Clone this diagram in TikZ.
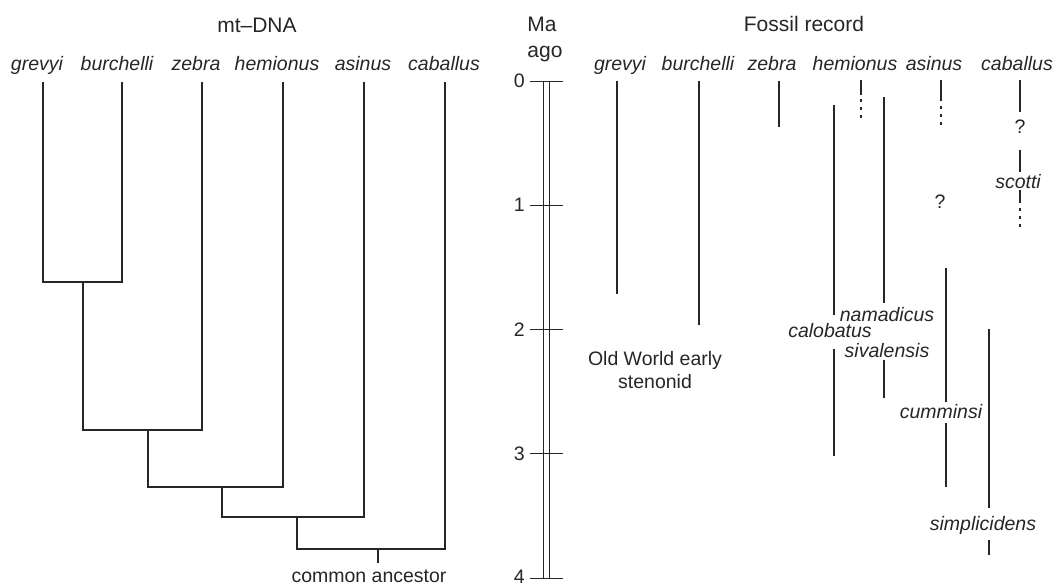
\documentclass[tikz,border=0pt]{standalone}
\usepackage{fontspec}
\setmainfont{Liberation Sans}
\begin{document}
\begin{tikzpicture}[x=1pt,y=-1pt,
  lab/.style={font=\fontsize{19.5}{22}\selectfont\itshape, anchor=base, inner sep=0pt, text=black!85},
  txt/.style={font=\fontsize{19.5}{22}\selectfont, anchor=base, inner sep=0pt, text=black!85},
  ttl/.style={font=\fontsize{21}{24}\selectfont, anchor=base, inner sep=0pt, text=black!85},
  num/.style={font=\fontsize{19.5}{24}\selectfont, anchor=east, inner sep=0pt, text=black!85},
  branch/.style={line width=1.6pt, black!85},
  bar/.style={line width=2pt, black!85},
  axisline/.style={line width=0.9pt, black!85},
  dotted bar/.style={line width=2pt, black!85, dash pattern=on 2.5pt off 5.5pt}]
\useasboundingbox (0,0) rectangle (1057,587);

% ---------------- mt-DNA tree ----------------
\node[ttl] (mtdna) at (257,32) {mt--DNA};
\node[lab] (lg) at (37,70) {grevyi};
\node[lab] (lb) at (117,70) {burchelli};
\node[lab] (lz) at (196,70) {zebra};
\node[lab] (lh) at (277,70) {hemionus};
\node[lab] (la) at (363,70) {asinus};
\node[lab] (lc) at (444,70) {caballus};

\coordinate (tg) at (43,82);
\coordinate (tb) at (122,82);
\coordinate (tz) at (202,82);
\coordinate (th) at (283,82);
\coordinate (ta) at (364,82);
\coordinate (tc) at (445,82);

\coordinate (n1) at (83,282);
\coordinate (n2) at (148,430);
\coordinate (n3) at (222,487);
\coordinate (n4) at (297,517);
\coordinate (n5) at (378,549);
\coordinate (root) at (378,563);

\draw[branch] (tg) |- (n1) -| (tb);
\draw[branch] (n1) |- (n2) -| (tz);
\draw[branch] (n2) |- (n3) -| (th);
\draw[branch] (n3) |- (n4) -| (ta);
\draw[branch] (n4) |- (n5) -| (tc);
\draw[branch] (n5) -- (root);
\node[txt] (anc) at (369,582) {common ancestor};

% ---------------- time axis ----------------
\node[ttl] (ma) at (542,31) {Ma};
\node[ttl] (ago) at (545,57) {ago};
\coordinate (ax1) at (543,81);
\coordinate (ax2) at (549,81);
\coordinate (ax1b) at (543,578);
\coordinate (ax2b) at (549,578);
\draw[axisline] (ax1) -- (ax1b);
\draw[axisline] (ax2) -- (ax2b);
\foreach \i/\yy in {0/81,1/205.25,2/329.5,3/453.75,4/578}{
  \coordinate (tick\i l) at (530,\yy);
  \coordinate (tick\i r) at (563,\yy);
  \draw[axisline] (tick\i l) -- (tick\i r);
}
\node[num] (d0) at (525,81) {0};
\node[num] (d1) at (525,205.25) {1};
\node[num] (d2) at (525,329.5) {2};
\node[num] (d3) at (525,453.75) {3};
\node[num] (d4) at (525,576.5) {4};

% ---------------- fossil record ----------------
\node[ttl] (fossil) at (804,31) {Fossil record};
\node[lab] (fg) at (620,70) {grevyi};
\node[lab] (fb) at (698,70) {burchelli};
\node[lab] (fz) at (772,70) {zebra};
\node[lab] (fh) at (855,70) {hemionus};
\node[lab] (fa) at (934,70) {asinus};
\node[lab] (fc) at (1017,70) {caballus};

% grevyi, burchelli, zebra
\coordinate (g1) at (617,81);  \coordinate (g2) at (617,294);
\coordinate (b1) at (699,81);  \coordinate (b2) at (699,325);
\coordinate (z1) at (779,81);  \coordinate (z2) at (779,127);
\draw[bar] (g1) -- (g2);
\draw[bar] (b1) -- (b2);
\draw[bar] (z1) -- (z2);
\node[txt] (ow1) at (655,365) {Old World early};
\node[txt] (ow2) at (655,388) {stenonid};

% hemionus (living)
\coordinate (h1) at (861,80); \coordinate (h2) at (861,95);
\coordinate (h3) at (861,99); \coordinate (h4) at (861,121);
\draw[bar] (h1) -- (h2);
\draw[dotted bar] (h3) -- (h4);

% calobatus
\coordinate (cal1) at (834,105); \coordinate (cal2) at (834,315);
\coordinate (cal3) at (834,349); \coordinate (cal4) at (834,456);
\draw[bar] (cal1) -- (cal2);
\node[lab] (calob) at (830,337) {calobatus};
\draw[bar] (cal3) -- (cal4);

% namadicus / sivalensis
\coordinate (nam1) at (884,97); \coordinate (nam2) at (884,303);
\coordinate (siv1) at (884,360); \coordinate (siv2) at (884,398);
\draw[bar] (nam1) -- (nam2);
\node[lab] (namad) at (887,321) {namadicus};
\node[lab] (sival) at (887,357) {sivalensis};
\draw[bar] (siv1) -- (siv2);

% asinus (living)
\coordinate (as1) at (941,80); \coordinate (as2) at (941,101);
\coordinate (as3) at (941,106); \coordinate (as4) at (941,128);
\draw[bar] (as1) -- (as2);
\draw[dotted bar] (as3) -- (as4);
\node[txt] (asq) at (940,208) {?};

% cumminsi
\coordinate (cu1) at (946,268); \coordinate (cu2) at (946,402);
\coordinate (cu3) at (946,423); \coordinate (cu4) at (946,487);
\draw[bar] (cu1) -- (cu2);
\node[lab] (cummin) at (941,418) {cumminsi};
\draw[bar] (cu3) -- (cu4);

% caballus / scotti
\coordinate (cb1) at (1020,80);  \coordinate (cb2) at (1020,112);
\coordinate (cb3) at (1020,150); \coordinate (cb4) at (1020,172);
\coordinate (cb5) at (1020,190); \coordinate (cb6) at (1020,203);
\coordinate (cb7) at (1020,208); \coordinate (cb8) at (1020,231);
\draw[bar] (cb1) -- (cb2);
\node[txt] (cbq) at (1020,133) {?};
\draw[bar] (cb3) -- (cb4);
\node[lab] (scotti) at (1018,188) {scotti};
\draw[bar] (cb5) -- (cb6);
\draw[dotted bar] (cb7) -- (cb8);

% simplicidens
\coordinate (si1) at (989,329); \coordinate (si2) at (989,508);
\coordinate (si3) at (989,540); \coordinate (si4) at (989,555);
\draw[bar] (si1) -- (si2);
\node[lab] (simpl) at (983,530) {simplicidens};
\draw[bar] (si3) -- (si4);
\end{tikzpicture}
\end{document}
